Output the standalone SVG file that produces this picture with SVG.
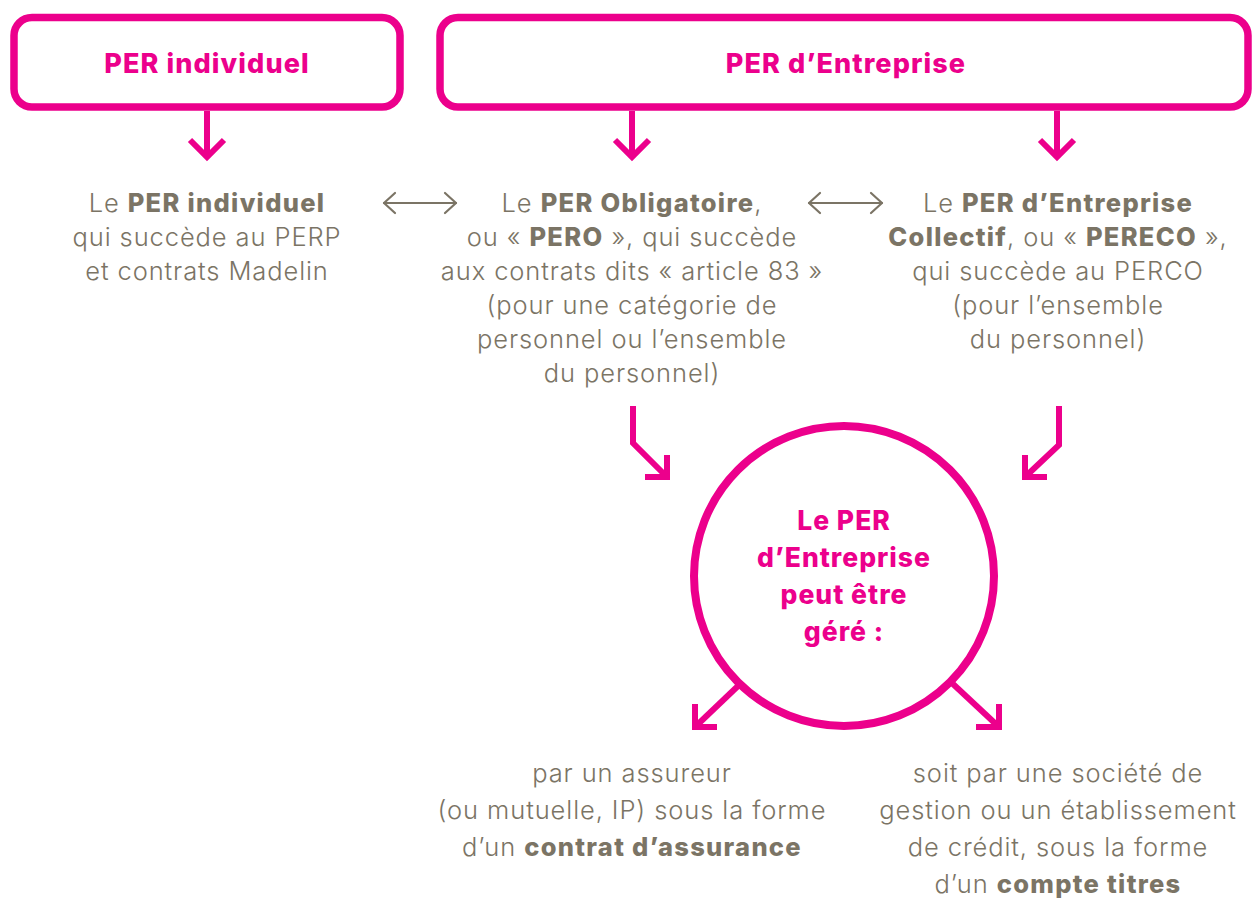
<svg xmlns="http://www.w3.org/2000/svg" width="1253" height="899" viewBox="0 0 1253 899">
<style>
.box{fill:#fff;stroke:#EC008C;stroke-width:7.5}
.pk{fill:none;stroke:#EC008C;stroke-width:6;stroke-linejoin:miter;stroke-linecap:butt}
.gr{fill:none;stroke:#7B7465;stroke-width:2.2;stroke-linecap:round;stroke-linejoin:round}
.title{font-family:Inter,"Liberation Sans",sans-serif;font-weight:800;font-size:27px;letter-spacing:1.1px;fill:#EC008C;text-anchor:middle}
.ct{font-family:Inter,"Liberation Sans",sans-serif;font-weight:800;font-size:26.5px;letter-spacing:1px;fill:#EC008C;text-anchor:middle}
.t{font-family:Inter,"Liberation Sans",sans-serif;font-weight:300;font-size:25.5px;letter-spacing:0.9px;fill:#7B7465;text-anchor:middle}
.b{font-weight:800;letter-spacing:1.3px}
</style>
<rect width="1253" height="899" fill="#fff"/>
<g id="per-individuel">
<rect class="box" x="14" y="17.5" width="386" height="89.5" rx="18"/>
<text class="title" x="207" y="73">PER individuel</text>
</g>
<g id="per-entreprise">
<rect class="box" x="440" y="17.5" width="808" height="89.5" rx="18"/>
<text class="title" x="846" y="73">PER d’Entreprise</text>
</g>
<g id="col-individuel">
<text class="t" x="207" y="212">Le <tspan class="b">PER individuel</tspan></text>
<text class="t" x="207" y="246">qui succède au PERP</text>
<text class="t" x="207" y="280">et contrats Madelin</text>
</g>
<g id="col-pero">
<text class="t" x="632" y="212">Le <tspan class="b">PER Obligatoire</tspan>,</text>
<text class="t" x="632" y="246">ou « <tspan class="b">PERO</tspan> », qui succède</text>
<text class="t" x="632" y="280">aux contrats dits « article 83 »</text>
<text class="t" x="632" y="314">(pour une catégorie de</text>
<text class="t" x="632" y="348">personnel ou l’ensemble</text>
<text class="t" x="632" y="382">du personnel)</text>
</g>
<g id="col-pereco">
<text class="t" x="1058" y="212">Le <tspan class="b">PER d’Entreprise</tspan></text>
<text class="t" x="1058" y="246"><tspan class="b">Collectif</tspan>, ou « <tspan class="b">PERECO</tspan> »,</text>
<text class="t" x="1058" y="280">qui succède au PERCO</text>
<text class="t" x="1058" y="314">(pour l’ensemble</text>
<text class="t" x="1058" y="348">du personnel)</text>
</g>
<g id="circle-gere">
<circle cx="844" cy="576" r="150" fill="#fff" stroke="#EC008C" stroke-width="8"/>
<text class="ct" x="844" y="530">Le PER</text>
<text class="ct" x="844" y="567">d’Entreprise</text>
<text class="ct" x="844" y="604">peut être</text>
<text class="ct" x="844" y="641">géré :</text>
</g>
<g id="col-assureur">
<text class="t" x="632" y="782">par un assureur</text>
<text class="t" x="632" y="819">(ou mutuelle, IP) sous la forme</text>
<text class="t" x="632" y="856">d’un <tspan class="b">contrat d’assurance</tspan></text>
</g>
<g id="col-gestion">
<text class="t" x="1058" y="782">soit par une société de</text>
<text class="t" x="1058" y="819">gestion ou un établissement</text>
<text class="t" x="1058" y="856">de crédit, sous la forme</text>
<text class="t" x="1058" y="893">d’un <tspan class="b">compte titres</tspan></text>
</g>
<g id="connectors">
<line class="pk" x1="207" y1="111" x2="207" y2="157"/>
<polyline class="pk" points="190,140 207,157 224,140"/>
<line class="pk" x1="632" y1="111" x2="632" y2="157"/>
<polyline class="pk" points="615,140 632,157 649,140"/>
<line class="pk" x1="1057" y1="111" x2="1057" y2="157"/>
<polyline class="pk" points="1040,140 1057,157 1074,140"/>
<line class="gr" x1="384" y1="203" x2="456" y2="203"/>
<polyline class="gr" points="395,193 384,203 395,213"/>
<polyline class="gr" points="445,193 456,203 445,213"/>
<line class="gr" x1="809" y1="203" x2="882" y2="203"/>
<polyline class="gr" points="820,193 809,203 820,213"/>
<polyline class="gr" points="871,193 882,203 871,213"/>
<polyline class="pk" points="633,406 633,443 667,477"/>
<polyline class="pk" points="667,455 667,477 645,477"/>
<polyline class="pk" points="1059,406 1059,445 1025,477"/>
<polyline class="pk" points="1025,455 1025,477 1047,477"/>
<line class="pk" x1="738" y1="686" x2="695" y2="727"/>
<polyline class="pk" points="695,704 695,727 717,727"/>
<line class="pk" x1="953" y1="684" x2="999" y2="727"/>
<polyline class="pk" points="999,704 999,727 976,727"/>
</g>
</svg>
